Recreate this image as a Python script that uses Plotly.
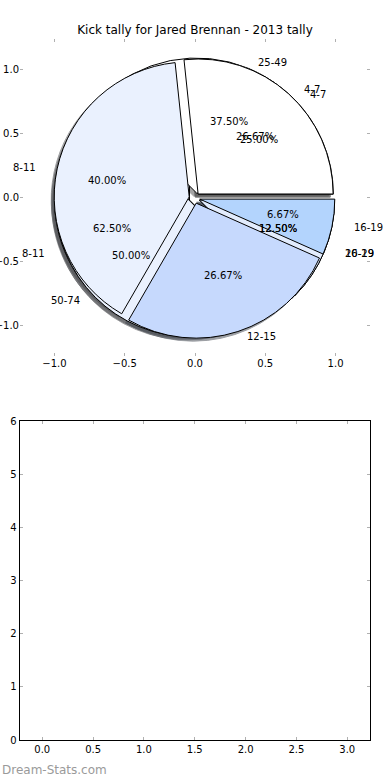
import numpy as np
import plotly.graph_objects as go

TITLE = "Kick tally for Jared Brennan - 2013 tally"
WATERMARK = "Dream-Stats.com"

# Three overlapping pies (drawn bottom to top: B, C, A)
labels_a = ["4-7", "8-11", "12-15", "16-19"]
values_a = [4, 6, 4, 1]
labels_b = ["4-7", "8-11", "16-19"]
values_b = [2, 5, 1]
labels_c = ["25-49", "50-74", "20-29"]
values_c = [3, 4, 1]

top_ticks = [-1.0, -0.5, 0.0, 0.5, 1.0]
bottom_xticks = [0.0, 0.5, 1.0, 1.5, 2.0, 2.5, 3.0]
bottom_yticks = [0, 1, 2, 3, 4, 5, 6]

# styling
colors_a = ["#ffffff", "#eaf1fe", "#c6d9fd", "#b3d4fd"]
colors_b = ["#ffffff", "#eaf1fe", "#c6d9fd"]
colors_c = ["#ffffff", "#eaf1fe", "#e2ecfd"]
EXPLODE = 0.04
W, H = 390, 780
FONT = "DejaVu Sans"

# pixel geometry of top (pie) axes
CX, CY = 194.5, 198.0
R = 135.0
half = R * (1 + EXPLODE)


def dom(dx=0.0, dy=0.0):
    return dict(
        x=[(CX - half + dx) / W, (CX + half + dx) / W],
        y=[1 - (CY + half + dy) / H, 1 - (CY - half + dy) / H],
    )


def shade(hexc):
    h = hexc.lstrip("#")
    r, g, b = (int(h[i:i + 2], 16) for i in (0, 2, 4))
    return "rgb(%d,%d,%d)" % (r * 0.3, g * 0.3, b * 0.3)


def start_rotation(values):
    # first wedge starts at 3 o'clock and runs counterclockwise (matplotlib default)
    vals = np.asarray(values, dtype=float)
    return 90.0 - 360.0 * vals[0] / vals.sum()


fig = go.Figure()

pies = [(labels_b, values_b, colors_b), (labels_c, values_c, colors_c), (labels_a, values_a, colors_a)]

# shadows
for labels, values, cols in pies:
    sc = [shade(c) for c in cols]
    fig.add_trace(go.Pie(
        labels=labels, values=values, sort=False, direction="counterclockwise",
        rotation=start_rotation(values), pull=[EXPLODE] * len(values), domain=dom(-3, 3),
        marker=dict(colors=sc, line=dict(color=sc, width=1)),
        textinfo="none", hoverinfo="none", showlegend=False, opacity=0.5,
    ))

# pies
for labels, values, cols in pies:
    fig.add_trace(go.Pie(
        labels=labels, values=values, sort=False, direction="counterclockwise",
        rotation=start_rotation(values), pull=[EXPLODE] * len(values), domain=dom(),
        marker=dict(colors=cols, line=dict(color="#000000", width=1)),
        textinfo="none", hoverinfo="none", showlegend=False,
    ))

# invisible traces to create the cartesian axes
fig.add_trace(go.Scatter(x=[0], y=[0], xaxis="x", yaxis="y", mode="markers",
                         marker=dict(opacity=0), showlegend=False, hoverinfo="skip"))
fig.add_trace(go.Scatter(x=[0], y=[0], xaxis="x2", yaxis="y2", mode="markers",
                         marker=dict(opacity=0), showlegend=False, hoverinfo="skip"))

# labels and percentages, positioned like matplotlib's pie text
annotations = []
for labels, values in [(labels_a, values_a), (labels_b, values_b), (labels_c, values_c)]:
    vals = np.array(values, dtype=float)
    frac = vals / vals.sum()
    cum = np.cumsum(frac)
    mids = np.deg2rad(360 * (cum - frac / 2))
    for lab, f, m in zip(labels, frac, mids):
        lx = (EXPLODE + 1.1) * np.cos(m)
        ly = (EXPLODE + 1.1) * np.sin(m)
        annotations.append(dict(
            x=lx, y=ly, xref="x", yref="y", text=lab, showarrow=False,
            xanchor="left" if lx > 0 else "right", yanchor="middle",
            font=dict(family=FONT, size=10, color="#000000")))
        px = (EXPLODE + 0.6) * np.cos(m)
        py = (EXPLODE + 0.6) * np.sin(m)
        annotations.append(dict(
            x=px, y=py, xref="x", yref="y", text="%.2f%%" % (f * 100), showarrow=False,
            xanchor="center", yanchor="middle",
            font=dict(family=FONT, size=10, color="#000000")))

annotations.append(dict(
    x=0, y=1 - 770 / H, xref="paper", yref="paper", text=WATERMARK, showarrow=False,
    xanchor="left", yanchor="middle", font=dict(family=FONT, size=12, color="#9a9a9a")))

tickfont = dict(family=FONT, size=10, color="#000000")
common = dict(ticks="inside", ticklen=3, tickwidth=1, tickcolor="#b0b0b0",
              showgrid=False, zeroline=False, tickfont=tickfont, fixedrange=True,
              automargin=False)

fig.update_layout(
    width=W, height=H,
    margin=dict(l=0, r=0, t=0, b=0),
    paper_bgcolor="#ffffff", plot_bgcolor="rgba(0,0,0,0)",
    title=dict(text=TITLE, x=0.5, xanchor="center", y=1 - 30 / H, yanchor="middle",
               font=dict(family=FONT, size=12, color="#000000"), automargin=False),
    xaxis=dict(domain=[20 / W, 370 / W], range=[-1.245, 1.245], tickvals=top_ticks,
               tickformat=".1f", showline=False, mirror="ticks", anchor="y", **common),
    yaxis=dict(domain=[1 - 356 / H, 1 - 39 / H], range=[-1.24, 1.24], tickvals=top_ticks,
               tickformat=".1f", showline=False, mirror="ticks", anchor="x", **common),
    xaxis2=dict(domain=[19.5 / W, 370 / W], range=[-0.224, 3.224], tickvals=bottom_xticks,
                tickformat=".1f", showline=True, linecolor="#000000", linewidth=1,
                mirror="ticks", anchor="y2", **common),
    yaxis2=dict(domain=[1 - 740 / H, 1 - 421 / H], range=[0, 6], tickvals=bottom_yticks,
                tickformat="d", showline=True, linecolor="#000000", linewidth=1,
                mirror="ticks", anchor="x2", **common),
    annotations=annotations,
)

fig.write_html(
    "out.html",
    config={"displayModeBar": False, "staticPlot": True},
    post_script="document.body.style.margin='0';document.body.style.overflow='hidden';",
)
